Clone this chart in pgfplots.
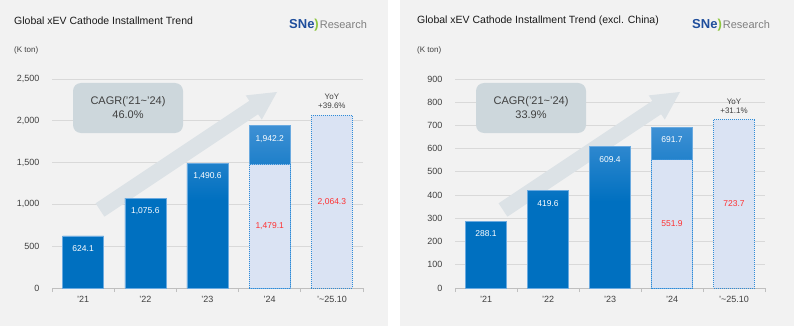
\documentclass[border=0pt]{standalone}
\usepackage{fontspec}
\setmainfont{Liberation Sans}
\usepackage{pgfplots}
\pgfplotsset{compat=1.18}
\definecolor{bg}{HTML}{F2F2F2}
\definecolor{gridc}{HTML}{D9D9D9}
\definecolor{axc}{HTML}{BFBFBF}
\definecolor{txt}{HTML}{404040}
\definecolor{barlight}{HTML}{3E90D4}
\definecolor{bardark}{HTML}{0070C0}
\definecolor{baredge}{HTML}{6AAAE0}
\definecolor{dotfill}{HTML}{DAE3F3}
\definecolor{dotedge}{HTML}{2E8BD8}
\definecolor{redlab}{HTML}{FF3030}
\definecolor{arrowc}{HTML}{DCE2E6}
\definecolor{boxc}{HTML}{CDD7DC}
\definecolor{sneblue}{HTML}{1F4E9C}
\definecolor{snegreen}{HTML}{8DC63F}
\definecolor{snegray}{HTML}{7F7F7F}
\pgfdeclareverticalshading{barshade}{100bp}{color(0bp)=(bardark); color(25bp)=(bardark); color(52bp)=(bardark); color(75bp)=(barlight); color(100bp)=(barlight)}
\pgfplotsset{
  geom/.style={scale only axis, height=209pt, anchor=south west,
    xmin=-0.5, xmax=4.5, ymin=0, clip=false},
  panel/.style={geom,
    xtick={0,...,4},
    xticklabels={'21,'22,'23,'24,'\textasciitilde 25.10},
    minor xtick={-0.5,0.5,...,4.5},
    tick align=outside, major tick length=0pt, minor tick length=4pt,
    xtick pos=bottom, ytick pos=left,
    axis lines*=left,
    y axis line style={draw=none},
    x axis line style={axc, line width=0.8pt},
    minor tick style={axc, line width=0.8pt},
    ymajorgrids, major grid style={gridc, line width=0.8pt},
    xticklabel style={font=\fontsize{9}{10}\selectfont, text=txt, yshift=-5pt},
    yticklabel style={font=\fontsize{9}{10}\selectfont, text=txt, xshift=-9pt},
    /pgf/number format/1000 sep={,},
    /pgf/number format/assume math mode=true,
  },
  bars/.style={geom, hide axis,
    /pgf/number format/1000 sep={,},
    /pgf/number format/assume math mode=true},
  solidbar/.style={ybar, bar width=0.66, bar shift=0pt, draw=baredge, line width=0.5pt, shading=barshade,
    nodes near coords={\pgfmathprintnumber[fixed,fixed zerofill,precision=1]{\pgfplotspointmeta}},
    every node near coord/.append style={font=\fontsize{8.5}{10}\selectfont, text=white, anchor=north, yshift=-6pt}},
  dotbar/.style={ybar, bar width=0.66, bar shift=0pt, fill=dotfill, draw=dotedge, densely dotted, line width=1pt},
  midlab/.style={only marks, mark=none, point meta=explicit symbolic, nodes near coords,
    every node near coord/.append style={font=\fontsize{8.5}{10}\selectfont, text=redlab, anchor=center}},
}
\newcommand\logo{{\fontsize{13}{14}\selectfont\bfseries\color{sneblue}SNe}{\fontsize{13}{14}\selectfont\bfseries\color{snegreen})}\kern1pt{\fontsize{11}{12}\selectfont\color{snegray}Research}}
\begin{document}
\begin{tikzpicture}[x=1pt,y=1pt]
\fill[white] (0,0) rectangle (794,-326);
\fill[bg] (0,0) rectangle (388,-326);
\fill[bg] (400,0) rectangle (794,-326);
% ---------- titles
\node[anchor=west, font=\fontsize{10.5}{12}\selectfont, text=black!90, inner sep=0pt] at (14,-21) {Global xEV Cathode Installment Trend};
\node[anchor=west, font=\fontsize{8}{10}\selectfont, text=txt, inner sep=0pt] at (14,-50) {(K ton)};
\node[anchor=west, inner sep=0pt] at (289,-25) {\logo};
\node[anchor=west, font=\fontsize{10.5}{12}\selectfont, text=black!90, inner sep=0pt] at (417,-21) {Global xEV Cathode Installment Trend (excl. China)};
\node[anchor=west, font=\fontsize{8}{10}\selectfont, text=txt, inner sep=0pt] at (417,-50) {(K ton)};
\node[anchor=west, inner sep=0pt] at (692,-25) {\logo};
% ---------- grids / ticks
\begin{axis}[panel, at={(52pt,-288pt)}, width=311pt, ymax=2500, ytick={0,500,...,2500}]
\end{axis}
\begin{axis}[panel, at={(455pt,-288pt)}, width=310pt, ymax=900, ytick={0,100,...,900}]
\end{axis}
% ---------- arrows and CAGR boxes
\foreach \dx/\cagr in {0/46.0, 403/33.9}{
\begin{scope}[xshift=\dx pt]
\fill[arrowc] (104.4,-216.7) -- (258.1,-114.2) -- (261.8,-119.6) -- (277,-92) -- (245.7,-95.4) -- (249.3,-100.8) -- (95.6,-203.3) -- cycle;
\fill[boxc, rounded corners=8pt] (73,-83) rectangle (183,-133);
\node[align=center, font=\fontsize{11}{13.5}\selectfont, text=txt] at (128,-107.5) {CAGR('21\textasciitilde'24)\\\cagr\%};
\end{scope}}
% ---------- left bars
\begin{axis}[bars, at={(52pt,-288pt)}, width=311pt, ymax=2500]
\addplot[solidbar] coordinates {(0,624.1) (1,1075.6) (2,1490.6) (3,1942.2)};
\addplot[dotbar] coordinates {(3,1479.1) (4,2064.3)};
\addplot[midlab] coordinates {(3,739.55)[1,479.1] (4,1032.15)[2,064.3]};
\node[anchor=south, align=center, font=\fontsize{8}{9}\selectfont, text=txt, yshift=3pt] at (axis cs:4,2064.3) {YoY\\+39.6\%};
\end{axis}
% ---------- right bars
\begin{axis}[bars, at={(455pt,-288pt)}, width=310pt, ymax=900]
\addplot[solidbar] coordinates {(0,288.1) (1,419.6) (2,609.4) (3,691.7)};
\addplot[dotbar] coordinates {(3,551.9) (4,723.7)};
\addplot[midlab] coordinates {(3,275.95)[551.9] (4,361.85)[723.7]};
\node[anchor=south, align=center, font=\fontsize{8}{9}\selectfont, text=txt, yshift=3pt] at (axis cs:4,723.7) {YoY\\+31.1\%};
\end{axis}
\end{tikzpicture}
\end{document}
